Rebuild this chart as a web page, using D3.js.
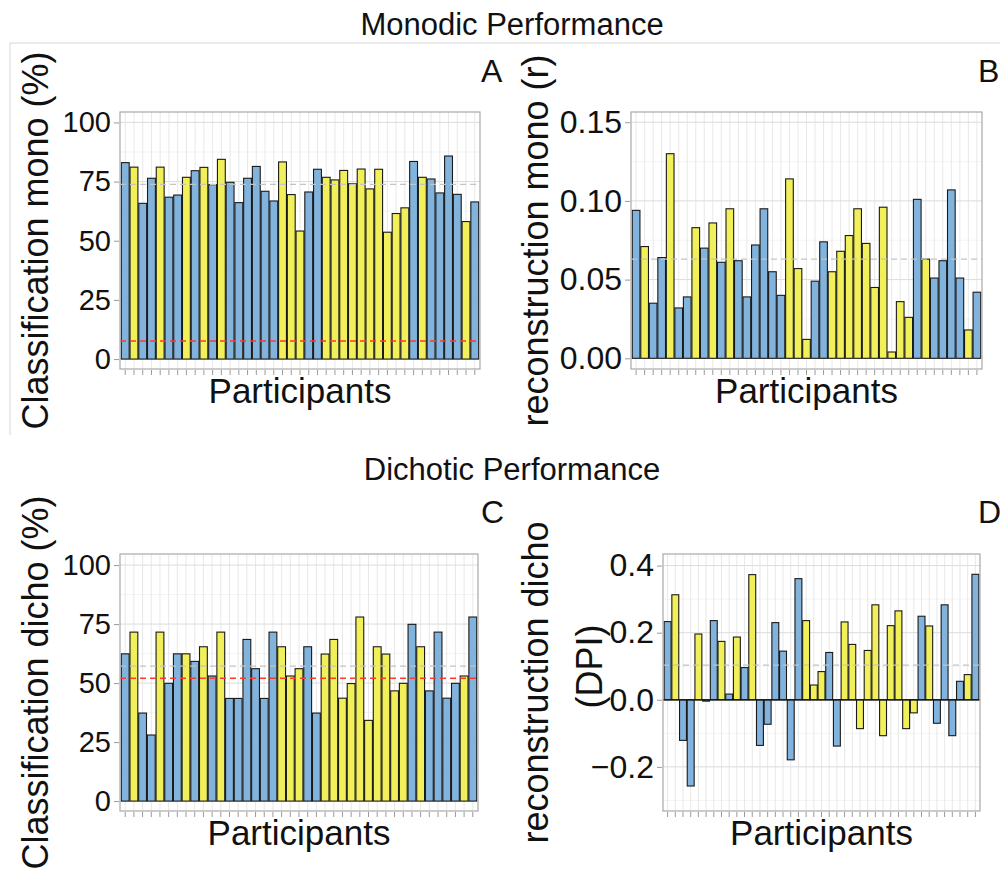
<!DOCTYPE html>
<html>
<head>
<meta charset="utf-8">
<script src="https://cdn.jsdelivr.net/npm/d3@7"></script>
<style>
  body { margin: 0; background: #fff; }
  text { font-family: 'Liberation Sans', Arial, sans-serif; fill: #111; }
</style>
</head>
<body>
<div id="chart"></div>
<script>
// participant order and group (blue / yellow)
const participants = d3.range(1, 42)
const groups = ['b','y','b','b','y','b','b','y','b','y','b','y','b','b','b','b','b','b','y','y',
  'y','b','b','y','y','y','y','y','y','y','y','y','y','b','y','b','b','b','b','y','b']

const monoClass = [83.0, 81.1, 65.8, 76.4, 81.1, 68.4, 69.3, 76.8, 79.6, 81.0, 73.7, 84.4, 74.7, 66.1,
  76.4, 81.4, 70.9, 66.8, 83.3, 69.5, 54.1, 70.6, 80.2, 76.8, 75.7, 79.7, 74.1, 80.3, 71.9, 80.2,
  53.6, 61.5, 63.9, 83.5, 76.8, 76.1, 70.2, 85.8, 69.6, 58.1, 66.4]
const monoRecon = [0.094, 0.071, 0.035, 0.064, 0.130, 0.032, 0.039, 0.083, 0.070, 0.086, 0.061, 0.095,
  0.062, 0.039, 0.072, 0.095, 0.055, 0.040, 0.114, 0.057, 0.012, 0.049, 0.074, 0.055, 0.068, 0.078,
  0.095, 0.073, 0.045, 0.096, 0.004, 0.036, 0.026, 0.101, 0.063, 0.051, 0.062, 0.107, 0.051, 0.018, 0.042]
const dichoClass = [62.4, 71.6, 37.3, 28.0, 71.6, 49.9, 62.4, 62.4, 59.2, 65.4, 53.0, 71.6, 43.5, 43.5,
  68.5, 56.1, 43.5, 71.6, 65.4, 53.0, 56.1, 65.4, 37.3, 62.3, 68.5, 43.6, 49.8, 78.0, 34.2, 65.4,
  62.3, 46.7, 49.9, 74.9, 65.4, 46.7, 71.6, 43.6, 49.9, 53.0, 78.0]
const dichoRecon = [0.233, 0.313, -0.121, -0.257, 0.196, -0.004, 0.236, 0.174, 0.017, 0.187, 0.096, 0.373,
  -0.136, -0.073, 0.230, 0.145, -0.179, 0.361, 0.236, 0.044, 0.084, 0.141, -0.138, 0.232, 0.165, -0.086,
  0.147, 0.283, -0.107, 0.221, 0.265, -0.086, -0.039, 0.249, 0.220, -0.070, 0.283, -0.107, 0.055, 0.075, 0.374]

// reference lines: group mean (grey) and chance level (red)
const meanLines = { A: 73.8, B: 0.063, C: 57.2, D: 0.103 }
const chanceLines = { A: 7.6, C: 52.1 }

const ticksA = [0, 25, 50, 75, 100]
const ticksB = [0, 0.05, 0.10, 0.15]
const ticksD = [-0.2, 0, 0.2, 0.4]
const minorA = [12.5, 37.5, 62.5, 87.5]
const minorB = [0.025, 0.075, 0.125]
const minorD = [-0.3, -0.1, 0.1, 0.3]

const colors = { b: '#82b3dc', y: '#f1ef5a' }

const svg = d3.select('#chart')
  .append('svg')
  .attr('width', 1000)
  .attr('height', 885)

// light frame of the figure
svg.append('path')
  .attr('d', 'M10,435 L10,43 L1000,43')
  .attr('fill', 'none')
  .attr('stroke', '#d6d6d6')
  .attr('stroke-width', 1)

svg.append('text')
  .attr('x', 512).attr('y', 35)
  .attr('text-anchor', 'middle')
  .attr('font-size', 31)
  .text('Monodic Performance')

svg.append('text')
  .attr('x', 512).attr('y', 480)
  .attr('text-anchor', 'middle')
  .attr('font-size', 31)
  .text('Dichotic Performance')

const panels = [
  { id: 'A', values: monoClass, x0: 120, x1: 480, y0: 112, y1: 369, domain: [-4.2, 104.4],
    ticks: ticksA, minor: minorA, fmt: d3.format('d'), tickSize: 29, title: ['Classification mono (%)'],
    titleX: 35, letterX: 481, letterY: 82 },
  { id: 'B', values: monoRecon, x0: 631, x1: 982, y0: 112, y1: 369, domain: [-0.0068, 0.1565],
    ticks: ticksB, minor: minorB, fmt: d3.format('.2f'), tickSize: 32, title: ['reconstruction mono (r)'],
    titleX: 535, letterX: 978, letterY: 82 },
  { id: 'C', values: dichoClass, x0: 120, x1: 478, y0: 554, y1: 811, domain: [-4.2, 104.7],
    ticks: ticksA, minor: minorA, fmt: d3.format('d'), tickSize: 29, title: ['Classification dicho (%)'],
    titleX: 35, letterX: 481, letterY: 523 },
  { id: 'D', values: dichoRecon, x0: 663, x1: 980, y0: 554, y1: 811, domain: [-0.3315, 0.4345],
    ticks: ticksD, minor: minorD, fmt: d3.format('.1f'), tickSize: 32, title: ['reconstruction dicho', '(DPI)'],
    titleX: 535, letterX: 978, letterY: 523, zeroLine: true }
]

panels.forEach(drawPanel)

function drawPanel(p) {
  const g = svg.append('g')

  const x = d3.scaleBand()
    .domain(participants)
    .range([p.x0, p.x1])
    .paddingInner(0.1)
    .paddingOuter(0.15)

  const y = d3.scaleLinear()
    .domain(p.domain)
    .range([p.y1, p.y0])

  // minor grid
  g.selectAll('.minor')
    .data(p.minor)
    .enter()
    .append('line')
    .attr('x1', p.x0).attr('x2', p.x1)
    .attr('y1', d => y(d)).attr('y2', d => y(d))
    .attr('stroke', '#ececec')
    .attr('stroke-width', 0.6)

  // vertical grid at each participant
  g.selectAll('.vgrid')
    .data(participants)
    .enter()
    .append('line')
    .attr('x1', d => x(d) + x.bandwidth() / 2)
    .attr('x2', d => x(d) + x.bandwidth() / 2)
    .attr('y1', p.y0).attr('y2', p.y1)
    .attr('stroke', '#e2e2e2')
    .attr('stroke-width', 0.8)

  // major grid
  g.selectAll('.major')
    .data(p.ticks)
    .enter()
    .append('line')
    .attr('x1', p.x0).attr('x2', p.x1)
    .attr('y1', d => y(d)).attr('y2', d => y(d))
    .attr('stroke', '#dcdcdc')
    .attr('stroke-width', 1)

  // bars
  g.selectAll('.bar')
    .data(p.values)
    .enter()
    .append('rect')
    .attr('x', (d, i) => x(participants[i]))
    .attr('width', x.bandwidth())
    .attr('y', d => y(Math.max(0, d)))
    .attr('height', d => Math.abs(y(d) - y(0)))
    .attr('fill', (d, i) => colors[groups[i]])
    .attr('stroke', '#1a1a1a')
    .attr('stroke-width', 1.1)

  if (p.zeroLine) {
    g.append('line')
      .attr('x1', p.x0).attr('x2', p.x1)
      .attr('y1', y(0)).attr('y2', y(0))
      .attr('stroke', '#111')
      .attr('stroke-width', 1.2)
  }

  g.append('line')
    .attr('x1', p.x0).attr('x2', p.x1)
    .attr('y1', y(meanLines[p.id])).attr('y2', y(meanLines[p.id]))
    .attr('stroke', '#c4c4c4')
    .attr('stroke-width', 1.3)
    .attr('stroke-dasharray', '6,4')

  if (chanceLines[p.id] !== undefined) {
    g.append('line')
      .attr('x1', p.x0).attr('x2', p.x1)
      .attr('y1', y(chanceLines[p.id])).attr('y2', y(chanceLines[p.id]))
      .attr('stroke', '#ff3a2a')
      .attr('stroke-width', 1.5)
      .attr('stroke-dasharray', '6,4')
  }

  // panel border
  g.append('rect')
    .attr('x', p.x0).attr('y', p.y0)
    .attr('width', p.x1 - p.x0).attr('height', p.y1 - p.y0)
    .attr('fill', 'none')
    .attr('stroke', '#a8a8a8')
    .attr('stroke-width', 1.2)

  // axes
  const yAxis = d3.axisLeft(y)
    .tickValues(p.ticks)
    .tickFormat(p.fmt)
    .tickSize(5)
    .tickPadding(3)
  const ya = g.append('g')
    .attr('transform', 'translate(' + (p.x0 - 1) + ',0)')
    .call(yAxis)
  ya.select('.domain').remove()
  ya.selectAll('line').attr('stroke', '#999')
  ya.selectAll('text')
    .attr('font-size', p.tickSize)
    .attr('font-family', "'Liberation Sans', Arial, sans-serif")
    .attr('fill', '#111')

  const xAxis = d3.axisBottom(x)
    .tickFormat('')
    .tickSize(5)
  const xa = g.append('g')
    .attr('transform', 'translate(0,' + (p.y1 + 1) + ')')
    .call(xAxis)
  xa.select('.domain').remove()
  xa.selectAll('line').attr('stroke', '#999')

  g.append('text')
    .attr('x', (p.x0 + p.x1) / 2)
    .attr('y', p.y1 + 34)
    .attr('text-anchor', 'middle')
    .attr('font-size', 35)
    .text('Participants')

  // y title (one or two lines)
  const cy = (p.y0 + p.y1) / 2
  p.title.forEach((t, i) => {
    g.append('text')
      .attr('transform', 'translate(' + (p.titleX + i * 54) + ',' + (cy - i * 16) + ') rotate(-90)')
      .attr('text-anchor', 'middle')
      .attr('dy', '0.35em')
      .attr('font-size', 36)
      .text(t)
  })

  g.append('text')
    .attr('x', p.letterX)
    .attr('y', p.letterY)
    .attr('font-size', 32)
    .text(p.id)
}
</script>
</body>
</html>
